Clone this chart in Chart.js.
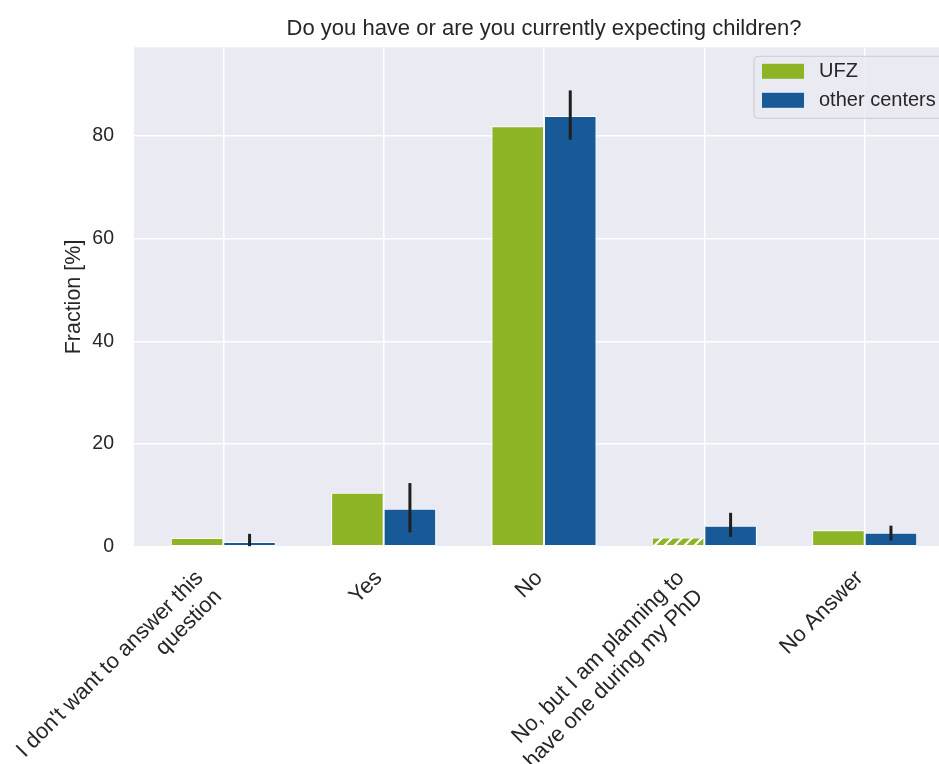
<!DOCTYPE html>
<html>
<head>
<meta charset="utf-8">
<script src="https://cdn.jsdelivr.net/npm/chart.js@4.4.0/dist/chart.umd.min.js"></script>
<style>
  html, body { margin: 0; padding: 0; background: #fff; overflow: hidden; }
  #wrap { width: 954px; height: 764px; }
</style>
</head>
<body>
<div id="wrap"><canvas id="chart" width="954" height="764"></canvas></div>
<script>
// answer categories (multi-line labels as arrays)
const categories = [
    ["I don't want to answer this", 'question'],
    'Yes',
    'No',
    ['No, but I am planning to', 'have one during my PhD'],
    'No Answer'
];
const ufzValues = [1.7, 10.5, 81.9, 1.8, 3.2];
const otherValues = [0.9, 7.4, 83.9, 4.1, 2.7];
const otherErrLow = [0.1, 2.8, 79.3, 1.9, 1.2];
const otherErrHigh = [2.5, 12.4, 88.9, 6.6, 4.1];
const hatchedUfz = [false, false, false, true, false];
const yTicks = [0, 20, 40, 60, 80];
const chartTitle = 'Do you have or are you currently expecting children?';

const FONT = "'Liberation Sans', Arial, sans-serif";
const TEXT = '#262626';
const GREEN = '#8cb425';
const BLUE = '#175a97';

function makeHatch(color) {
    const c = document.createElement('canvas');
    c.width = 10;
    c.height = 10;
    const g = c.getContext('2d');
    g.fillStyle = color;
    g.fillRect(0, 0, 10, 10);
    g.strokeStyle = '#ffffff';
    g.lineWidth = 2.2;
    g.beginPath();
    g.moveTo(-2, 12); g.lineTo(12, -2);
    g.moveTo(-7, 7); g.lineTo(7, -7);
    g.moveTo(3, 17); g.lineTo(17, 3);
    g.stroke();
    return g.createPattern(c, 'repeat');
}

const hatch = makeHatch(GREEN);

const plotBackground = {
    id: 'plotBackground',
    beforeDraw(chart) {
        const { ctx, chartArea: a } = chart;
        ctx.save();
        ctx.fillStyle = '#eaeaf2';
        ctx.fillRect(a.left, a.top, a.width, a.height);
        ctx.restore();
    }
};

const errorBars = {
    id: 'errorBars',
    afterDatasetsDraw(chart) {
        const meta = chart.getDatasetMeta(1);
        const y = chart.scales.y;
        const ctx = chart.ctx;
        ctx.save();
        ctx.strokeStyle = '#1f1f1f';
        ctx.lineWidth = 3;
        meta.data.forEach((bar, i) => {
            ctx.beginPath();
            ctx.moveTo(bar.x, y.getPixelForValue(otherErrLow[i]));
            ctx.lineTo(bar.x, y.getPixelForValue(otherErrHigh[i]));
            ctx.stroke();
        });
        ctx.restore();
    }
};

// rotated category labels, anchored like matplotlib (ha='right', block top at the axis)
const xLabels = {
    id: 'xLabels',
    afterDraw(chart) {
        const { ctx, scales: { x } } = chart;
        const step = 26.2 * Math.SQRT1_2;
        ctx.save();
        ctx.font = '22px ' + FONT;
        ctx.fillStyle = TEXT;
        ctx.textAlign = 'right';
        ctx.textBaseline = 'middle';
        categories.forEach((label, i) => {
            const lines = [].concat(label);
            const px = x.getPixelForValue(i);
            lines.forEach((line, k) => {
                ctx.save();
                ctx.translate(px - 5 - (lines.length - 1 - k) * step, x.top + 28 + k * step);
                ctx.rotate(-Math.PI / 4);
                ctx.fillText(line, 0, 0);
                ctx.restore();
            });
        });
        ctx.restore();
    }
};

// title centred over the plot area (matplotlib style, not over the canvas)
const axesTitle = {
    id: 'axesTitle',
    afterDraw(chart) {
        const { ctx, chartArea: a } = chart;
        ctx.save();
        ctx.font = '22px ' + FONT;
        ctx.fillStyle = TEXT;
        ctx.textAlign = 'center';
        ctx.textBaseline = 'alphabetic';
        ctx.fillText(chartTitle, (a.left + a.right) / 2, a.top - 12.5);
        ctx.restore();
    }
};

// legend box drawn inside the plot, upper right
const insideLegend = {
    id: 'insideLegend',
    afterDraw(chart) {
        const { ctx, chartArea: a } = chart;
        const boxW = 193, boxH = 62;
        const x0 = a.right - 7 - boxW, y0 = a.top + 9;
        ctx.save();
        ctx.beginPath();
        ctx.roundRect(x0, y0, boxW, boxH, 4);
        ctx.fillStyle = 'rgba(234,234,242,0.8)';
        ctx.fill();
        ctx.strokeStyle = '#cccccc';
        ctx.lineWidth = 1;
        ctx.stroke();
        ctx.font = '20px ' + FONT;
        ctx.textBaseline = 'middle';
        chart.data.datasets.forEach((ds, i) => {
            const cy = y0 + 15 + i * 29;
            ctx.fillStyle = ds.legendColor;
            ctx.fillRect(x0 + 8, cy - 7.5, 42, 15);
            ctx.fillStyle = TEXT;
            ctx.fillText(ds.label, x0 + 65, cy);
        });
        ctx.restore();
    }
};

new Chart(document.getElementById('chart'), {
    type: 'bar',
    data: {
        datasets: [
            {
                label: 'UFZ',
                data: ufzValues.map((v, i) => ({ x: i, y: v })),
                backgroundColor: hatchedUfz.map(h => h ? hatch : GREEN),
                legendColor: GREEN,
                borderColor: '#ffffff',
                borderWidth: 1,
                borderSkipped: false
            },
            {
                label: 'other centers',
                data: otherValues.map((v, i) => ({ x: i, y: v })),
                backgroundColor: BLUE,
                legendColor: BLUE,
                borderColor: '#ffffff',
                borderWidth: 1,
                borderSkipped: false
            }
        ]
    },
    options: {
        responsive: false,
        animation: false,
        devicePixelRatio: 1,
        categoryPercentage: 0.655,
        barPercentage: 1.0,
        layout: { padding: { top: 47.3, left: 0, right: 0, bottom: 0 } },
        plugins: {
            legend: { display: false },
            tooltip: { enabled: false },
            title: { display: false }
        },
        scales: {
            x: {
                type: 'linear',
                offset: false,
                min: -0.557,
                max: 4.557,
                afterBuildTicks: (s) => { s.ticks = categories.map((_, i) => ({ value: i })); },
                afterFit: (s) => { s.height = 764 - 546.7; },
                grid: { color: '#ffffff', lineWidth: 1.5, drawTicks: false, offset: false },
                border: { display: false },
                ticks: { display: false }
            },
            y: {
                min: 0,
                max: 97.3,
                afterBuildTicks: (s) => { s.ticks = yTicks.map(v => ({ value: v })); },
                afterFit: (s) => { s.width = 134; },
                grid: { color: '#ffffff', lineWidth: 1.5, drawTicks: false },
                border: { display: false },
                ticks: {
                    padding: 20,
                    color: TEXT,
                    font: { family: FONT, size: 19.5 }
                },
                title: {
                    display: true,
                    text: 'Fraction [%]',
                    color: TEXT,
                    font: { family: FONT, size: 21.5 },
                    padding: { top: 61, bottom: 0 }
                }
            }
        }
    },
    plugins: [plotBackground, errorBars, xLabels, axesTitle, insideLegend]
});
</script>
</body>
</html>
